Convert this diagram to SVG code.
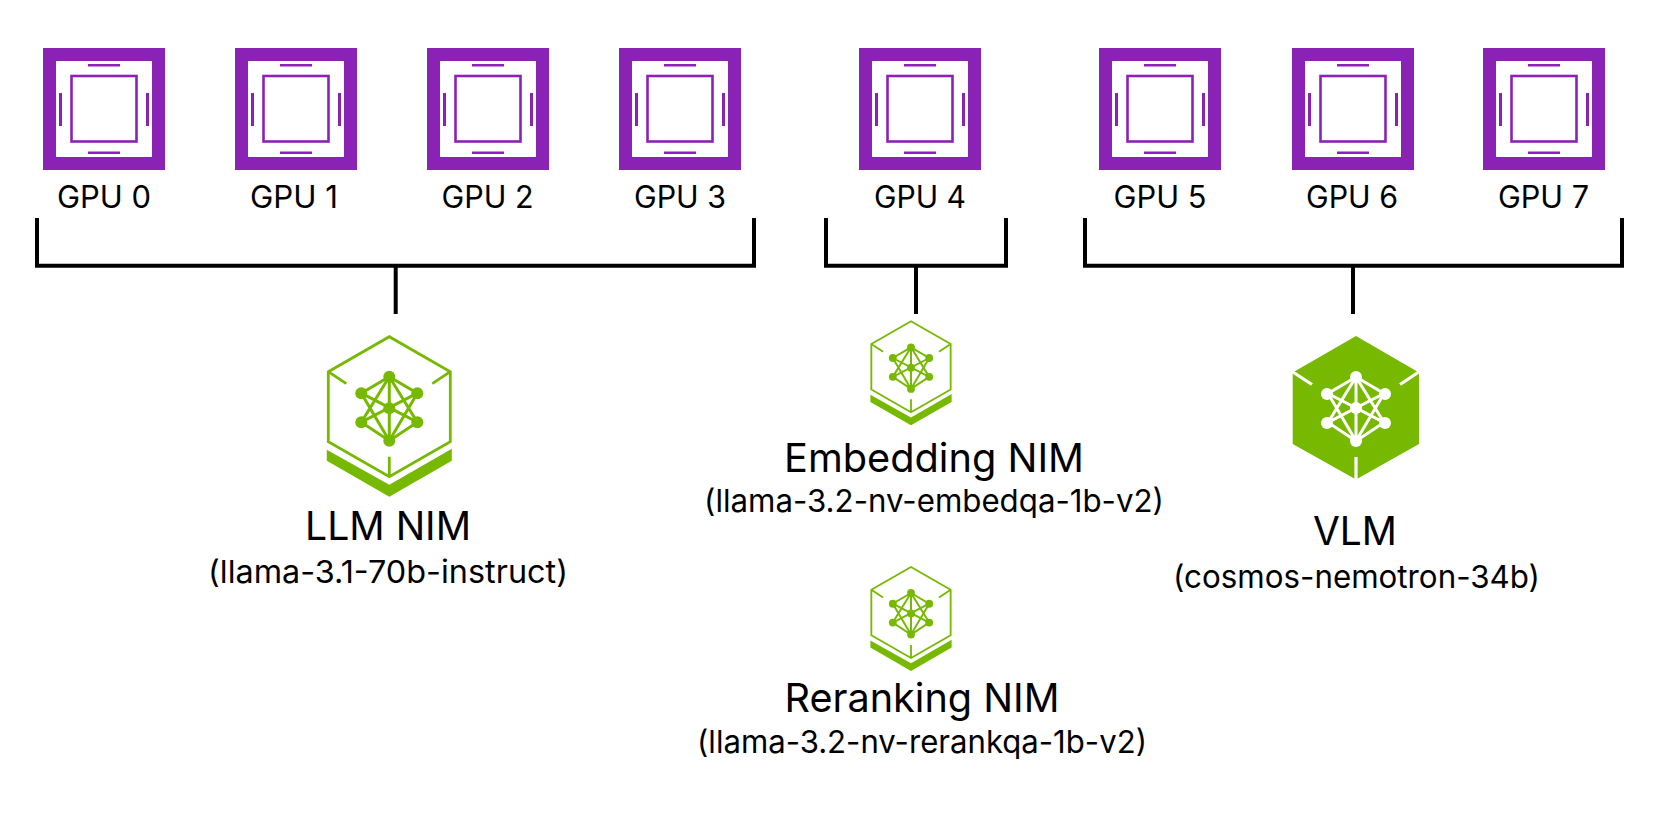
<svg xmlns="http://www.w3.org/2000/svg" width="1660" height="816" viewBox="0 0 1660 816">
<style>
text{font-family:"Inter","Liberation Sans",sans-serif;fill:#000;text-anchor:middle}
.g{font-size:30.500px}
.t{font-size:40px}
.s{font-size:31.500px}
.br{fill:none;stroke:#000;stroke-width:4}
.p{fill:#8a22b5}
.n{fill:#76b900}
.ln{stroke:#76b900;fill:none}
.lw{stroke:#fff;fill:none}
</style>
<defs>
<g id="gpu">
<path class="p" fill-rule="evenodd" d="M0 0H122V122H0ZM13 13V109H109V13Z"/>
<rect x="28.500" y="28" width="65" height="65.500" fill="none" stroke="#8a22b5" stroke-width="2.600"/>
<path class="p" d="M45 16H77V18.500H45ZM45 103.500H77V106H45ZM16 45H19V78H16ZM103 45H106V78H103Z"/>
</g>
<g id="net">
<path stroke-width="3" d="M0 40L-28 56.500L28 85.500L0 104L-28 85.500L28 56.500L0 40M0 40V104M-28 56.500L0 104M28 56.500L0 104M-28 85.500L0 40M28 85.500L0 40"/>
</g>
<g id="hexline">
<path class="ln" stroke-width="2.800" d="M-61 35L0 0L61 35V105L0 140L-61 105ZM-61 35L-43 47M61 35L43 47M0 120V140"/>
<path class="n" d="M-62.500 113V124L0 160L62.500 124V112L0 148Z"/>
<g class="ln"><use href="#net"/></g>
<g class="n"><circle cx="0" cy="40" r="6"/><circle cx="-28" cy="56.500" r="6"/><circle cx="28" cy="56.500" r="6"/><circle cx="0" cy="71.500" r="6"/><circle cx="-28" cy="85.500" r="6"/><circle cx="28" cy="85.500" r="6"/><circle cx="0" cy="104" r="6"/></g>
</g>
</defs>
<g id="connectors">
<path class="br" d="M37 218V265.700H754V218M395.700 265.700V314"/>
<path class="br" d="M826 218V265.700H1006V218M916 265.700V314"/>
<path class="br" d="M1085 218V265.700H1622V218M1353 265.700V314"/>
</g>
<g id="gpu0"><use href="#gpu" x="43" y="48"/><text class="g" x="104" y="207.500" textLength="94" lengthAdjust="spacingAndGlyphs">GPU 0</text></g>
<g id="gpu1"><use href="#gpu" x="235" y="48"/><text class="g" x="294" y="207.500" textLength="88" lengthAdjust="spacingAndGlyphs">GPU 1</text></g>
<g id="gpu2"><use href="#gpu" x="427" y="48"/><text class="g" x="487.500" y="207.500" textLength="92" lengthAdjust="spacingAndGlyphs">GPU 2</text></g>
<g id="gpu3"><use href="#gpu" x="619" y="48"/><text class="g" x="680" y="207.500" textLength="92" lengthAdjust="spacingAndGlyphs">GPU 3</text></g>
<g id="gpu4"><use href="#gpu" x="859" y="48"/><text class="g" x="920" y="207.500" textLength="92" lengthAdjust="spacingAndGlyphs">GPU 4</text></g>
<g id="gpu5"><use href="#gpu" x="1099" y="48"/><text class="g" x="1160" y="207.500" textLength="93" lengthAdjust="spacingAndGlyphs">GPU 5</text></g>
<g id="gpu6"><use href="#gpu" x="1292" y="48"/><text class="g" x="1352" y="207.500" textLength="92" lengthAdjust="spacingAndGlyphs">GPU 6</text></g>
<g id="gpu7"><use href="#gpu" x="1483" y="48"/><text class="g" x="1543.500" y="207.500" textLength="91" lengthAdjust="spacingAndGlyphs">GPU 7</text></g>
<g id="llm"><use href="#hexline" transform="translate(389.300 336.700)"/><text class="t" x="388" y="540" textLength="166" lengthAdjust="spacingAndGlyphs">LLM NIM</text><text class="s" x="388" y="582.500" textLength="360" lengthAdjust="spacingAndGlyphs">(llama-3.1-70b-instruct)</text></g>
<g id="embedding"><use href="#hexline" transform="translate(911 321.300) scale(.65)"/><text class="t" x="934" y="472" textLength="300" lengthAdjust="spacingAndGlyphs">Embedding NIM</text><text class="s" x="934" y="512" textLength="460" lengthAdjust="spacingAndGlyphs">(llama-3.2-nv-embedqa-1b-v2)</text></g>
<g id="reranking"><use href="#hexline" transform="translate(911 567) scale(.65)"/><text class="t" x="922" y="712" textLength="275" lengthAdjust="spacingAndGlyphs">Reranking NIM</text><text class="s" x="922" y="752.500" textLength="450" lengthAdjust="spacingAndGlyphs">(llama-3.2-nv-rerankqa-1b-v2)</text></g>
<g id="vlm">
<path class="n" d="M1356 336L1419 372.500V444L1356 479.500L1292.700 444V372.500Z"/>
<path class="lw" stroke-width="3.200" d="M1290.500 370.500L1312 384.500M1421 370.500L1400 384.500M1356 457V481"/>
<g class="lw"><use href="#net" transform="translate(1356 337)"/></g>
<g fill="#fff"><circle cx="1356" cy="377" r="6"/><circle cx="1327" cy="394" r="6"/><circle cx="1385" cy="394" r="6"/><circle cx="1356" cy="408" r="6"/><circle cx="1327" cy="423" r="6"/><circle cx="1385" cy="423" r="6"/><circle cx="1356" cy="441" r="6"/></g>
<text class="t" x="1355" y="544.800" textLength="84" lengthAdjust="spacingAndGlyphs">VLM</text><text class="s" x="1356.500" y="588" textLength="367" lengthAdjust="spacingAndGlyphs">(cosmos-nemotron-34b)</text></g>
</svg>
